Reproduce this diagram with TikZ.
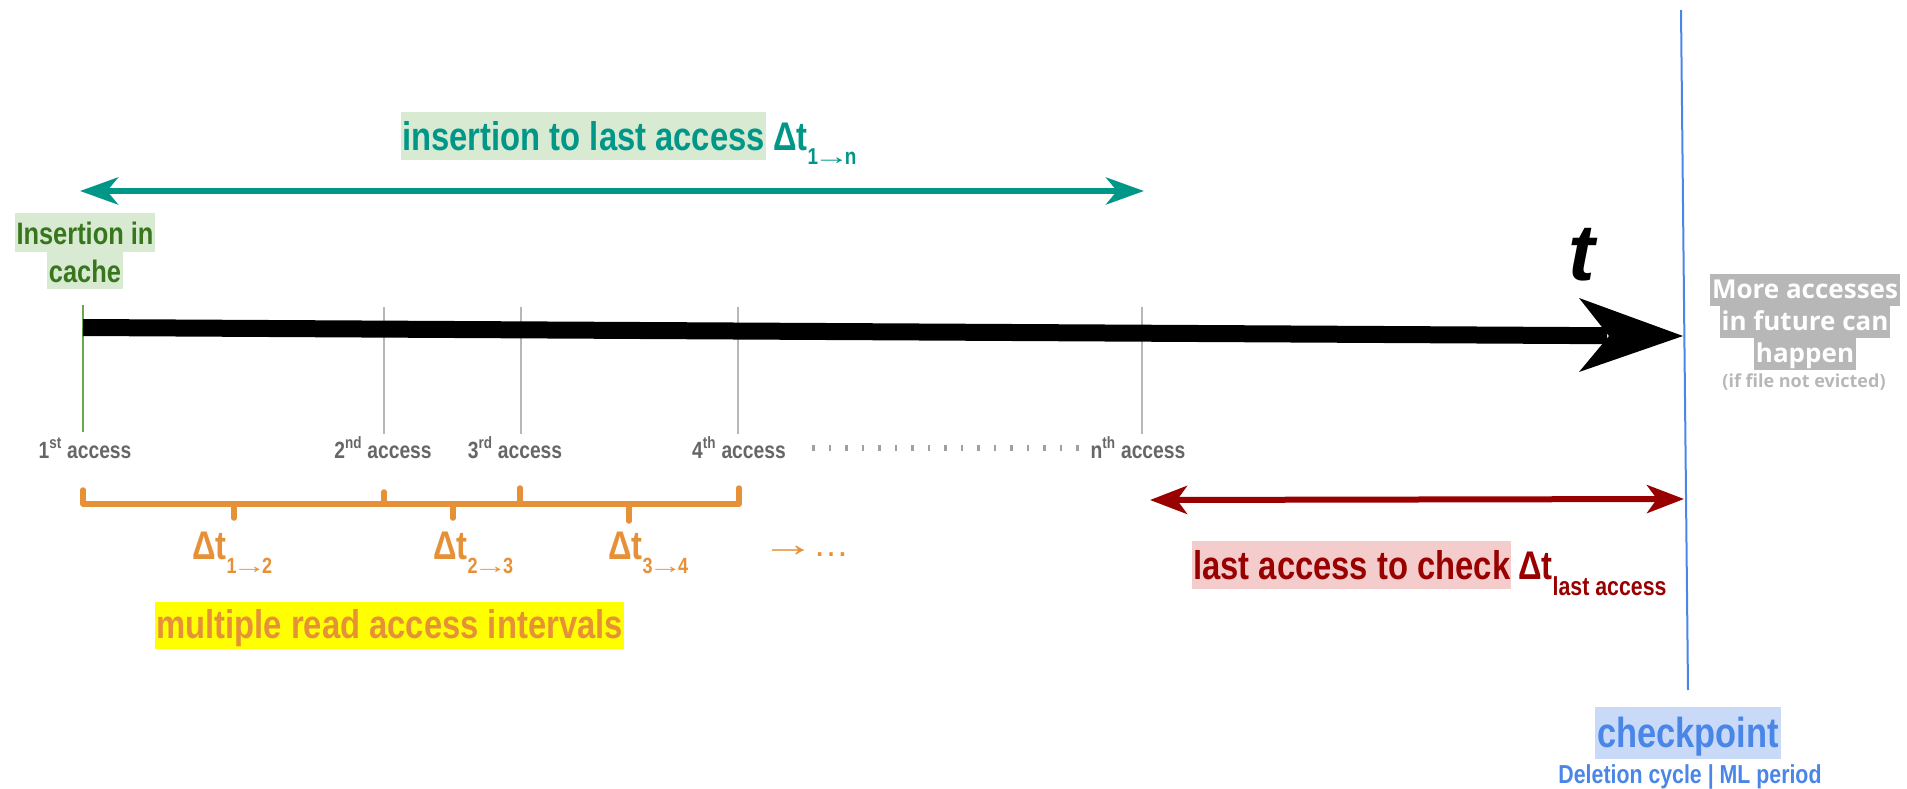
\documentclass[tikz,border=0pt]{standalone}
\usepackage{graphicx}
\usepackage{fontspec}
\setmainfont{Liberation Sans}
\newfontfamily\narfont[FakeStretch=0.82]{Liberation Sans}
\newfontfamily\osfont{Open Sans}
\usetikzlibrary{arrows.meta}
\newcommand{\myfs}[1]{\fontsize{#1}{#1}\selectfont}
\newcommand{\sarr}{\kern-0.2em\scalebox{1.9}[1]{→}\kern-0.2em}
\definecolor{tealc}{RGB}{0,150,136}
\definecolor{greenbg}{RGB}{217,234,211}
\definecolor{grnc}{RGB}{56,118,29}
\definecolor{orc}{RGB}{230,145,56}
\definecolor{yel}{RGB}{255,255,0}
\definecolor{redc}{RGB}{153,0,0}
\definecolor{redbg}{RGB}{244,204,204}
\definecolor{bluec}{RGB}{74,134,232}
\definecolor{bluebg}{RGB}{201,218,248}
\definecolor{gtxt}{RGB}{102,102,102}
\definecolor{gline}{RGB}{183,183,183}
\definecolor{gdots}{RGB}{160,160,160}
\definecolor{greentick}{RGB}{106,168,79}
\definecolor{futbg}{RGB}{183,183,183}
\begin{document}
\begin{tikzpicture}[x=1pt,y=-1pt,
  every node/.style={inner sep=0pt},
  bigtxt/.style={font=\narfont\bfseries\myfs{40}},
  hlbox/.style={bigtxt, text height=38pt, text depth=10pt, inner xsep=1pt, inner ysep=0pt, anchor=base west},
  acclab/.style={font=\narfont\bfseries\myfs{23.5}, text=gtxt, anchor=base},
  ticklin/.style={draw=gline, line width=1.5pt},
  brk/.style={draw=orc, line width=5.5pt, line cap=round, line join=round},
  dtlab/.style={bigtxt, text=orc, anchor=base west},
  futlab/.style={font=\osfont\bfseries\myfs{26}, text=white, fill=futbg, text height=24pt, text depth=8pt, inner xsep=2pt, inner ysep=0pt, anchor=base}
]
\useasboundingbox (0,0) rectangle (1907,789);

% checkpoint line
\coordinate (cp0) at (1681,10);
\coordinate (cp1) at (1688,690);
\draw[bluec, line width=2pt] (cp0) -- (cp1);

% title teal
\node[hlbox, fill=greenbg, text=tealc] (ttl) at (401,150) {insertion to last access};
\node[bigtxt, text=tealc, anchor=base west] (ttld) at (773,150) {Δt\raisebox{-14pt}{\myfs{23}1\sarr n}};
\coordinate (tA) at (80,191);
\coordinate (tB) at (1144,191);
\draw[tealc, line width=6pt, {Stealth[length=38pt,width=27pt,inset=11pt]}-{Stealth[length=38pt,width=27pt,inset=11pt]}] (tA) -- (tB);

% insertion in cache
\node[font=\narfont\bfseries\myfs{31}, text=grnc, fill=greenbg, text height=31pt, text depth=8pt, inner xsep=2pt, anchor=base] (ins1) at (85,244) {Insertion in};
\node[font=\narfont\bfseries\myfs{31}, text=grnc, fill=greenbg, text height=30pt, text depth=7pt, inner xsep=2pt, anchor=base] (ins2) at (85,282) {cache};

% ticks
\draw[draw=greentick, line width=1.5pt] (83,305) -- (83,432);
\draw[ticklin] (384,307) -- (384,434);
\draw[ticklin] (521,307) -- (521,434);
\draw[ticklin] (738,307) -- (738,434);
\draw[ticklin] (1142,307) -- (1142,434);

% time axis
\coordinate (ax0) at (83,327.5);
\coordinate (axE) at (1607,335.7);
\coordinate (ax1) at (1683,336);
\draw[black, line width=17pt] (ax0) -- (axE);
\fill[black] (ax1) -- (1579,298) -- (1609,336) -- (1579,372) -- cycle;
\node[font=\bfseries\itshape\myfs{80}, anchor=base] (tt) at (1582,280) {t};

% access labels
\node[acclab] (a1) at (85,458) {1\textsuperscript{st} access};
\node[acclab] (a2) at (383,458) {2\textsuperscript{nd} access};
\node[acclab] (a3) at (515,458) {3\textsuperscript{rd} access};
\node[acclab] (a4) at (739,458) {4\textsuperscript{th} access};
\node[acclab] (an) at (1138,458) {n\textsuperscript{th} access};
\foreach \i in {0,...,16} {
  \fill[gdots] ({812+16.5*\i},445) rectangle ++(2.5,6);
}

% orange bracket
\draw[brk] (83,490) -- (83,504) -- (739,504) -- (739,488);
\draw[brk] (384,492) -- (384,504);
\draw[brk] (520,488) -- (520,504);
\draw[brk] (234,504) -- (234,518);
\draw[brk] (453,504) -- (453,518);
\draw[brk] (629,504) -- (629,521);
\node[dtlab] (d12) at (192,559) {Δt\raisebox{-14pt}{\myfs{22}1\sarr 2}};
\node[dtlab] (d23) at (433,559) {Δt\raisebox{-14pt}{\myfs{22}2\sarr 3}};
\node[dtlab] (d34) at (608,559) {Δt\raisebox{-14pt}{\myfs{22}3\sarr 4}};
\node[font=\myfs{36}, text=orc, anchor=base west] (dmore) at (761,556) {\scalebox{1.5}[1]{→}\hspace{-12pt} …};
\node[hlbox, fill=yel, text=orc, text height=36pt, text depth=11pt] (mult) at (155,638) {multiple read access intervals};

% red arrow
\coordinate (rA) at (1150,500);
\coordinate (rB) at (1684,499);
\draw[redc, line width=6pt, {Stealth[length=37pt,width=28pt,inset=10pt]}-{Stealth[length=37pt,width=28pt,inset=10pt]}] (rA) -- (rB);
\node[hlbox, fill=redbg, text=redc] (last) at (1192,579) {last access to check};
\node[bigtxt, text=redc, anchor=base west] (lastd) at (1518,579) {Δt\raisebox{-16pt}{\myfs{26}last access}};

% future
\node[futlab] (f1) at (1805,298) {More accesses};
\node[futlab] (f2) at (1805,330) {in future can};
\node[futlab] (f3) at (1805,362) {happen};
\node[font=\osfont\bfseries\myfs{18}, text=futbg, anchor=base] (f4) at (1804,387) {(if file not evicted)};

% checkpoint
\node[font=\narfont\bfseries\myfs{42}, text=bluec, fill=bluebg, text height=40pt, text depth=12pt, inner xsep=2pt, anchor=base] (cpl) at (1688,747) {checkpoint};
\node[font=\narfont\bfseries\myfs{26}, text=bluec, anchor=base] (cps) at (1690,783) {Deletion cycle | ML period};
\end{tikzpicture}
\end{document}
